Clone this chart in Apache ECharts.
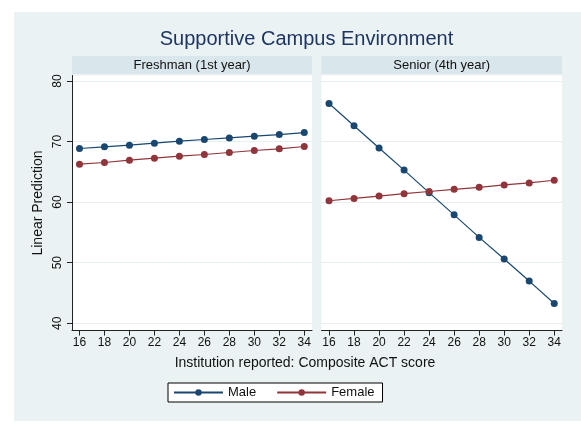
<!DOCTYPE html>
<html>
<head>
<meta charset="utf-8">
<script src="https://cdn.jsdelivr.net/npm/echarts@6/dist/echarts.min.js"></script>
<style>
html,body{margin:0;padding:0;background:#fff;}
#c{width:581px;height:426px;}
</style>
</head>
<body>
<div id="c"></div>
<script>
var actScores = [16, 18, 20, 22, 24, 26, 28, 30, 32, 34];
var yTicks = [40, 50, 60, 70, 80];
var freshmanMale   = [68.85, 69.12, 69.40, 69.73, 70.05, 70.33, 70.60, 70.88, 71.15, 71.48];
var freshmanFemale = [66.26, 66.54, 66.92, 67.25, 67.58, 67.86, 68.19, 68.52, 68.79, 69.18];
var seniorMale     = [76.28, 72.61, 68.94, 65.28, 61.56, 57.89, 54.17, 50.60, 46.96, 43.26];
var seniorFemale   = [60.22, 60.61, 61.00, 61.39, 61.75, 62.11, 62.44, 62.83, 63.17, 63.61];
var panelTitles = ['Freshman (1st year)', 'Senior (4th year)'];
var seriesNames = ['Male', 'Female'];
var colors = ['#1a476f', '#90353b'];

var FONT = "'Liberation Sans', Arial, Helvetica, sans-serif";

function pairs(ys) { return actScores.map(function (x, i) { return [x, ys[i]]; }); }

var chart = echarts.init(document.getElementById('c'), null, {renderer: 'canvas'});

function xAxisFor(gi) {
  return {
    type: 'value', gridIndex: gi, min: 15.4, max: 34.62,
    axisLine: {show: true, onZero: false, lineStyle: {color: '#222', width: 1}},
    axisTick: {show: true, length: 5, lineStyle: {color: '#222'}, customValues: actScores},
    axisLabel: {show: true, color: '#111', fontSize: 12, fontFamily: FONT, margin: 6, customValues: actScores},
    splitLine: {show: false}
  };
}
function yAxisFor(gi, showAxis) {
  return {
    type: 'value', gridIndex: gi, min: 38.8, max: 80.9,
    axisLine: {show: showAxis, lineStyle: {color: '#222', width: 1}},
    axisTick: {show: showAxis, length: 5, lineStyle: {color: '#222'}, customValues: yTicks},
    axisLabel: {show: showAxis, rotate: 90, color: '#111', fontSize: 12, fontFamily: FONT, margin: 8, customValues: yTicks},
    splitLine: {show: true, lineStyle: {color: '#e7eff1', width: 1}}
  };
}
function lineSeries(name, gi, ys, ci) {
  return {
    name: name, type: 'line', xAxisIndex: gi, yAxisIndex: gi,
    data: pairs(ys), symbol: 'circle', symbolSize: 7,
    lineStyle: {color: colors[ci], width: 1.2},
    itemStyle: {color: colors[ci]},
    emphasis: {disabled: true}
  };
}

var option = {
  animation: false,
  backgroundColor: '#ffffff',
  textStyle: {fontFamily: FONT},
  grid: [
    {left: 72, right: 269, top: 75.5, bottom: 95.5, show: true, backgroundColor: '#ffffff', borderWidth: 0},
    {left: 321.5, right: 19, top: 75.5, bottom: 95.5, show: true, backgroundColor: '#ffffff', borderWidth: 0}
  ],
  xAxis: [xAxisFor(0), xAxisFor(1)],
  yAxis: [yAxisFor(0, true), yAxisFor(1, false)],
  legend: {
    left: 168, top: 383,
    data: seriesNames,
    itemWidth: 49, itemHeight: 8, itemGap: 20,
    padding: [3, 8, 3, 5],
    backgroundColor: '#ffffff', borderColor: '#000', borderWidth: 1, borderRadius: 0,
    textStyle: {fontSize: 13, color: '#111', fontFamily: FONT}
  },
  graphic: [
    {type: 'rect', z: -100, silent: true, shape: {x: 14, y: 12, width: 567, height: 409}, style: {fill: '#eaf2f3'}},
    {type: 'rect', z: -50, silent: true, shape: {x: 72, y: 56, width: 240, height: 18}, style: {fill: '#d9e6eb'}},
    {type: 'rect', z: -50, silent: true, shape: {x: 321.5, y: 56, width: 240.5, height: 18}, style: {fill: '#d9e6eb'}},
    {type: 'text', silent: true, x: 192, y: 65.5, style: {text: panelTitles[0], fill: '#111', font: '13px ' + FONT, textAlign: 'center', textVerticalAlign: 'middle'}},
    {type: 'text', silent: true, x: 441.75, y: 65.5, style: {text: panelTitles[1], fill: '#111', font: '13px ' + FONT, textAlign: 'center', textVerticalAlign: 'middle'}},
    {type: 'text', silent: true, x: 306.5, y: 39, style: {text: 'Supportive Campus Environment', fill: '#1e3561', font: '20px ' + FONT, textAlign: 'center', textVerticalAlign: 'middle'}},
    {type: 'text', silent: true, x: 305, y: 363, style: {text: 'Institution reported: Composite ACT score', fill: '#111', font: '14px ' + FONT, textAlign: 'center', textVerticalAlign: 'middle'}},
    {type: 'text', silent: true, x: 38, y: 203, rotation: Math.PI / 2, style: {text: 'Linear Prediction', fill: '#111', font: '14px ' + FONT, textAlign: 'center', textVerticalAlign: 'middle'}}
  ],
  series: [
    lineSeries(seriesNames[0], 0, freshmanMale, 0),
    lineSeries(seriesNames[1], 0, freshmanFemale, 1),
    lineSeries(seriesNames[0], 1, seniorMale, 0),
    lineSeries(seriesNames[1], 1, seniorFemale, 1)
  ]
};
chart.setOption(option);
</script>
</body>
</html>
